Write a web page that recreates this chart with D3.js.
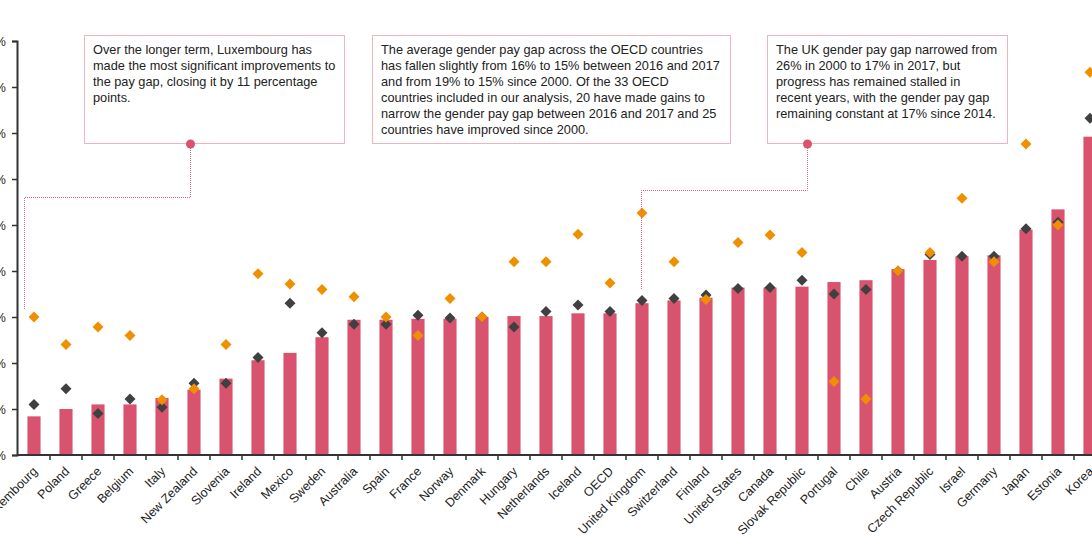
<!DOCTYPE html>
<html>
<head>
<meta charset="utf-8">
<script src="https://cdn.jsdelivr.net/npm/d3@7"></script>
<style>
  body { margin: 0; background: #fff; }
  svg { display: block; font-family: "Liberation Sans", Arial, sans-serif; }
</style>
</head>
<body>
<svg id="chart" width="1092" height="545"></svg>
<script>
// Countries, ordered by the 2017 gap
var countries = ["Luxembourg", "Poland", "Greece", "Belgium", "Italy", "New Zealand", "Slovenia",
  "Ireland", "Mexico", "Sweden", "Australia", "Spain", "France", "Norway", "Denmark", "Hungary",
  "Netherlands", "Iceland", "OECD", "United Kingdom", "Switzerland", "Finland", "United States",
  "Canada", "Slovak Republic", "Portugal", "Chile", "Austria", "Czech Republic", "Israel",
  "Germany", "Japan", "Estonia", "Korea"];

// Gender pay gap (%) - bars are 2017, dark diamonds 2016, orange diamonds 2000
var gap2017 = [4.2, 5.0, 5.5, 5.5, 6.2, 7.1, 8.3, 10.3, 11.1, 12.8, 14.7, 14.7, 14.8, 14.8, 15.0,
  15.1, 15.1, 15.4, 15.4, 16.5, 16.8, 17.1, 18.2, 18.2, 18.3, 18.8, 19.0, 20.2, 21.2, 21.6,
  21.7, 24.5, 26.7, 34.6];
var gap2016 = [5.5, 7.2, 4.5, 6.1, 5.2, 7.8, 7.8, 10.6, 16.5, 13.3, 14.2, 14.2, 15.2, 14.9, 15.0,
  13.9, 15.6, 16.3, 15.6, 16.8, 17.0, 17.4, 18.1, 18.2, 19.0, 17.5, 18.0, 20.0, 21.8, 21.6,
  21.6, 24.6, 25.3, 36.6];
var gap2000 = [15.0, 12.0, 13.9, 13.0, 6.0, 7.2, 12.0, 19.7, 18.6, 18.0, 17.2, 15.0, 13.0, 17.0, 15.0,
  21.0, 21.0, 24.0, 18.7, 26.3, 21.0, 16.9, 23.1, 23.9, 22.0, 8.0, 6.1, 20.0, 22.0, 27.9,
  21.0, 33.8, 25.0, 41.6];

var yTicks = [0, 5, 10, 15, 20, 25, 30, 35, 40, 45];

// Annotation texts
var noteLux = ["Over the longer term, Luxembourg has",
  "made the most significant improvements to",
  "the pay gap, closing it by 11 percentage",
  "points."];
var noteOecd = ["The average gender pay gap across the OECD countries",
  "has fallen slightly from 16% to 15% between 2016 and 2017",
  "and from 19% to 15% since 2000. Of the 33 OECD",
  "countries included in our analysis, 20 have made gains to",
  "narrow the gender pay gap between 2016 and 2017 and 25",
  "countries have improved since 2000."];
var noteUk = ["The UK gender pay gap narrowed from",
  "26% in 2000 to 17% in 2017, but",
  "progress has remained stalled in",
  "recent years, with the gender pay gap",
  "remaining constant at 17% since 2014."];

var barColour = "#d9536e";
var darkColour = "#404040";
var orangeColour = "#f09000";
var noteColour = "#e06682";

var svg = d3.select("svg#chart");

var axisX = 17;
var baseY = 455;

var x = d3.scaleBand()
  .domain(countries)
  .range([axisX + 1, axisX + 1 + countries.length * 32])
  .paddingInner(0.59)
  .paddingOuter(0.295);

var y = d3.scaleLinear()
  .domain([0, 45])
  .range([baseY, 41]);

var step = x.step();
var cx = d => x(d) + x.bandwidth() / 2;

// Bars
svg.selectAll("rect.bar")
  .data(countries)
  .enter().append("rect")
  .attr("class", "bar")
  .attr("x", d => x(d))
  .attr("y", (d, i) => y(gap2017[i]))
  .attr("width", x.bandwidth())
  .attr("height", (d, i) => baseY - y(gap2017[i]))
  .attr("fill", barColour);

// Diamonds
var diamond = "M0,-5.5L5.5,0L0,5.5L-5.5,0Z";

svg.selectAll("path.dark")
  .data(countries)
  .enter().append("path")
  .attr("class", "dark")
  .attr("d", diamond)
  .attr("transform", (d, i) => "translate(" + cx(d) + "," + y(gap2016[i]) + ")")
  .attr("fill", darkColour);

svg.selectAll("path.orange")
  .data(countries)
  .enter().append("path")
  .attr("class", "orange")
  .attr("d", diamond)
  .attr("transform", (d, i) => "translate(" + cx(d) + "," + y(gap2000[i]) + ")")
  .attr("fill", orangeColour);

// Y axis
var yAxis = svg.append("g")
  .attr("transform", "translate(" + axisX + ",0)")
  .call(d3.axisLeft(y).tickValues(yTicks).tickSize(5).tickPadding(6).tickFormat(d => d + "%"));
yAxis.select(".domain").attr("stroke", "#333").attr("stroke-width", 2);
yAxis.selectAll(".tick line").attr("stroke", "#333").attr("stroke-width", 1.5);
yAxis.selectAll(".tick text").attr("font-size", 12.5).attr("fill", "#222")
  .attr("font-family", "Liberation Sans, Arial, sans-serif");

// X axis line, boundary ticks and labels
svg.append("line")
  .attr("x1", axisX).attr("x2", 1092)
  .attr("y1", baseY).attr("y2", baseY)
  .attr("stroke", "#333").attr("stroke-width", 2);

svg.selectAll("line.xtick")
  .data(countries)
  .enter().append("line")
  .attr("class", "xtick")
  .attr("x1", d => cx(d) + step / 2)
  .attr("x2", d => cx(d) + step / 2)
  .attr("y1", baseY).attr("y2", baseY + 5)
  .attr("stroke", "#333").attr("stroke-width", 1.5);

svg.selectAll("text.xlabel")
  .data(countries)
  .enter().append("text")
  .attr("class", "xlabel")
  .attr("transform", d => "translate(" + (cx(d) + 1) + "," + (baseY + 14) + ") rotate(-45)")
  .attr("text-anchor", "end")
  .attr("dy", "0.35em")
  .attr("font-size", 12.5)
  .attr("fill", "#222")
  .text(d => d);

// Annotation boxes
function note(lines, bx, by, bw, bh) {
  var g = svg.append("g");
  g.append("rect")
    .attr("x", bx).attr("y", by)
    .attr("width", bw).attr("height", bh)
    .attr("fill", "#fff")
    .attr("stroke", noteColour)
    .attr("stroke-width", 1)
    .attr("stroke-dasharray", "1,1");
  g.selectAll("text")
    .data(lines)
    .enter().append("text")
    .attr("x", bx + 8.5)
    .attr("y", (d, i) => by + 18.5 + i * 16)
    .attr("font-size", 12.75)
    .attr("fill", "#222")
    .text(d => d);
}

function connector(points, dot) {
  svg.append("path")
    .attr("d", d3.line()(points))
    .attr("fill", "none")
    .attr("stroke", noteColour)
    .attr("stroke-width", 1)
    .attr("stroke-dasharray", "1,1");
  svg.append("circle")
    .attr("cx", dot[0]).attr("cy", dot[1])
    .attr("r", 4.5)
    .attr("fill", barColour);
}

note(noteLux, 84.5, 35.5, 260, 108);
note(noteOecd, 372.5, 35.5, 358, 108);
note(noteUk, 767.5, 35.5, 240, 108);

// Luxembourg connector
var luxX = cx("Luxembourg");
connector([[190.5, 144], [190.5, 197.5], [luxX - 9.5, 197.5], [luxX - 9.5, y(gap2000[0]) - 7]], [190.5, 144]);

// UK connector
var ukX = cx("United Kingdom");
connector([[807.5, 144], [807.5, 190.5], [ukX - 0.5, 190.5], [ukX - 0.5, y(gap2016[19]) - 11]], [807.5, 144]);
</script>
</body>
</html>
